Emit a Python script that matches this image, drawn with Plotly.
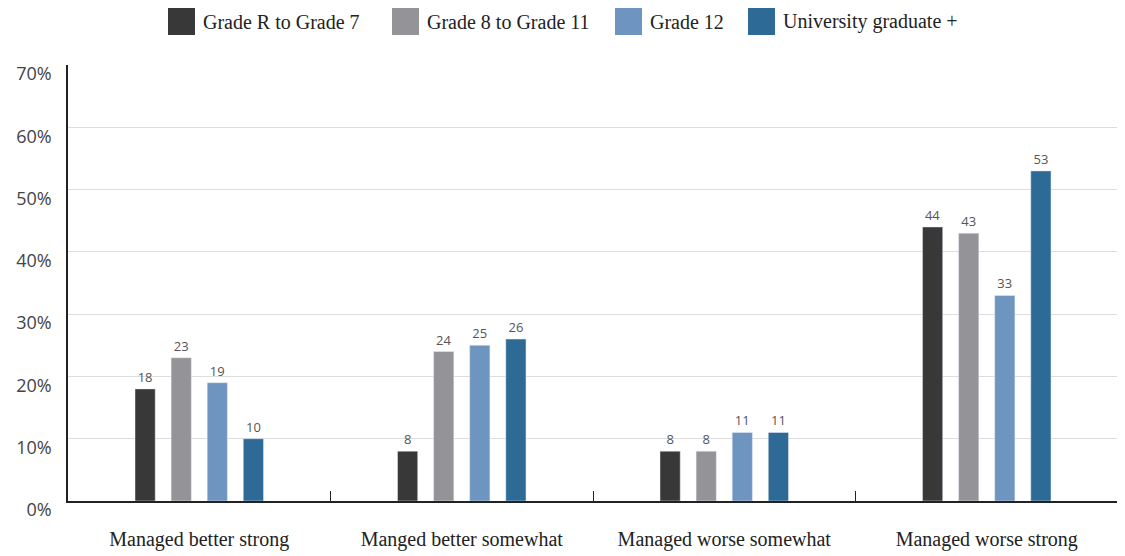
import plotly.graph_objects as go

categories = ["Managed better strong", "Manged better somewhat", "Managed worse somewhat", "Managed worse strong"]
series_names = ["Grade R to Grade 7", "Grade 8 to Grade 11", "Grade 12", "University graduate +"]
grade_r_7 = [18, 8, 8, 44]
grade_8_11 = [23, 24, 8, 43]
grade_12 = [19, 25, 11, 33]
university = [10, 26, 11, 53]
y_tick_vals = [0, 10, 20, 30, 40, 50, 60, 70]
y_tick_text = ["0%", "10%", "20%", "30%", "40%", "50%", "60%", "70%"]

colors = ["#383838", "#949397", "#6e95bf", "#2d6a96"]
all_values = [grade_r_7, grade_8_11, grade_12, university]

# page body adds an 8px offset; compensate so the plot lands where the reference has it
OFF = 8
L, R, T, B = 68 - OFF, 7, 65 - OFF, 55
W, H = 1125 - OFF, 556 - OFF
pw, ph = W - L - R, H - T - B
plot_left_px, plot_bottom_px = 68, 501

fig = go.Figure()
lbl_font = dict(family="Open Sans", size=13, color="#555555")
for name, vals, col in zip(series_names, all_values, colors):
    fig.add_trace(go.Bar(
        x=categories, y=vals, name=name, marker_color=col,
        text=[str(v) for v in vals], textposition="outside",
        textfont=lbl_font, outsidetextfont=lbl_font,
        cliponaxis=False, showlegend=False,
    ))

# custom legend (large square swatches, serif text), positions in page pixels
legend_x = [168, 392, 615, 748]
sq = 27
for px, name, col in zip(legend_x, series_names, colors):
    x0 = (px - plot_left_px) / pw
    x1 = (px + sq - plot_left_px) / pw
    y0 = (plot_bottom_px - 35) / ph
    y1 = (plot_bottom_px - 8) / ph
    fig.add_shape(type="rect", xref="paper", yref="paper", x0=x0, x1=x1, y0=y0, y1=y1,
                  fillcolor=col, line=dict(width=0))
    fig.add_annotation(xref="paper", yref="paper", x=(px + sq + 6 - plot_left_px) / pw, y=(y0 + y1) / 2,
                       xanchor="left", yanchor="middle", showarrow=False, text=name,
                       font=dict(family="Liberation Serif", size=20, color="#222222"))

fig.update_layout(
    width=W, height=H,
    margin=dict(l=L, r=R, t=T, b=B, autoexpand=False),
    paper_bgcolor="white", plot_bgcolor="white",
    barmode="group", bargap=0.45, bargroupgap=0.44,
    showlegend=False,
)

fig.update_xaxes(
    showline=True, linecolor="#222222", linewidth=1.5,
    ticks="inside", tickson="boundaries", ticklen=10, tickcolor="#222222",
    tickfont=dict(family="Liberation Serif", size=20, color="#222222"),
    ticklabelstandoff=19, showgrid=False, automargin=False,
)
fig.update_yaxes(
    range=[0, 70], tickvals=y_tick_vals, ticktext=y_tick_text,
    showline=True, linecolor="#222222", linewidth=1.5,
    showgrid=True, gridcolor="#dddddd", gridwidth=1,
    tickfont=dict(family="Open Sans", size=18, color="#444444"),
    ticklabelstandoff=11, ticklabelshift=9, zeroline=False, automargin=False,
)

fig.write_html("out.html")
